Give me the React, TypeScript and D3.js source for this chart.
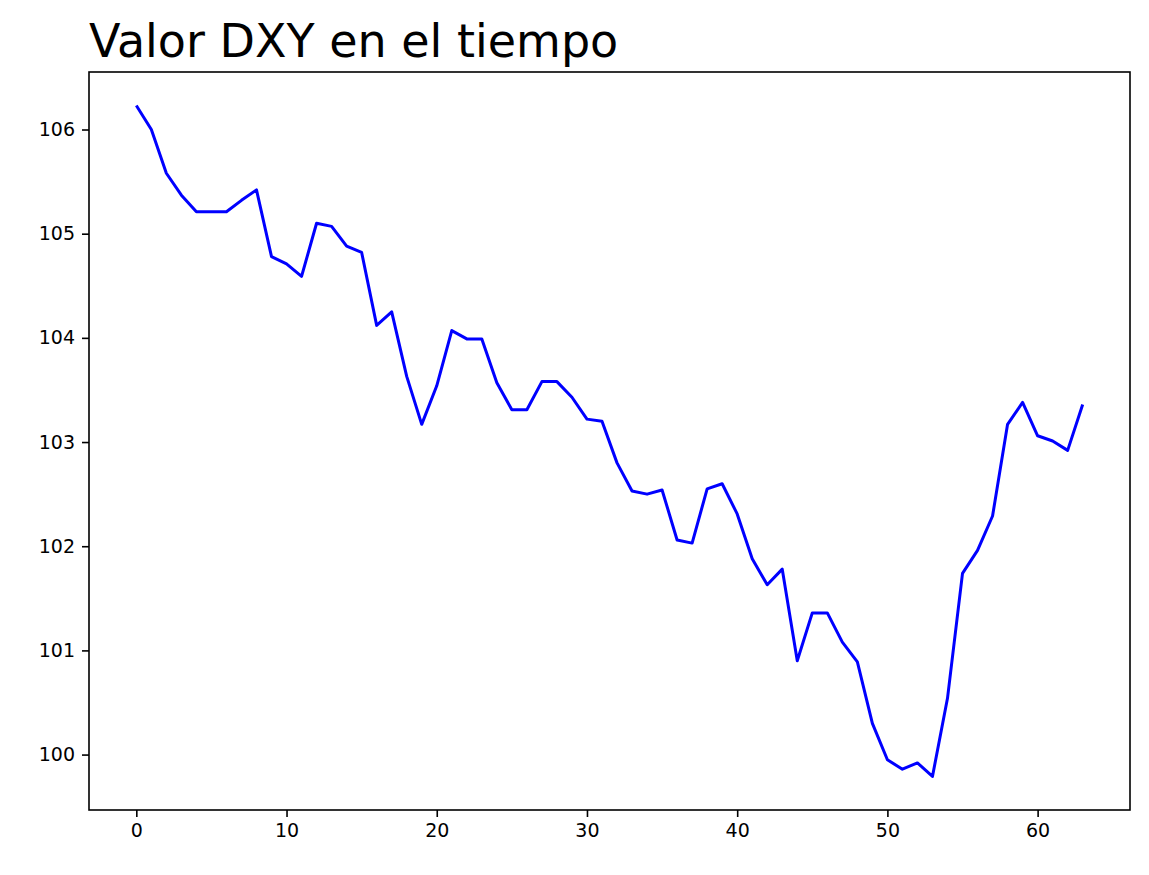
import React, { useRef, useEffect } from 'react';
import * as d3 from 'd3';

const dxyValues = [
  106.23, 106.0, 105.58, 105.37, 105.21, 105.21, 105.21, 105.32, 105.42, 104.78,
  104.71, 104.59, 105.1, 105.07, 104.88, 104.82, 104.12, 104.25, 103.63, 103.17,
  103.54, 104.07, 103.99, 103.99, 103.57, 103.31, 103.31, 103.58, 103.58, 103.43,
  103.22, 103.2, 102.8, 102.53, 102.5, 102.54, 102.06, 102.03, 102.55, 102.6,
  102.31, 101.88, 101.63, 101.78, 100.9, 101.36, 101.36, 101.08, 100.89, 100.3,
  99.95, 99.86, 99.92, 99.79, 100.54, 101.74, 101.96, 102.29, 103.17, 103.38,
  103.06, 103.01, 102.92, 103.36,
];
const xTicks = [0, 10, 20, 30, 40, 50, 60];
const yTicks = [100, 101, 102, 103, 104, 105, 106];
const title = 'Valor DXY en el tiempo';

const App: React.FC = () => {
  const svgRef = useRef<SVGSVGElement | null>(null);
  const width = 1149;
  const height = 875;

  useEffect(() => {
    const m = { left: 89, right: 1130, top: 72, bottom: 810 };
    const n = dxyValues.length - 1;
    const x = d3.scaleLinear().domain([-n * 0.05, n * 1.05]).range([m.left, m.right]);
    const [lo, hi] = d3.extent(dxyValues) as [number, number];
    const pad = (hi - lo) * 0.05;
    const y = d3.scaleLinear().domain([lo - pad, hi + pad]).range([m.bottom, m.top]);

    const svg = d3.select(svgRef.current);
    svg.selectAll('*').remove();
    svg.append('rect').attr('width', width).attr('height', height).attr('fill', 'white');

    const font = 'DejaVu Sans, sans-serif';

    const xAxis = svg.append('g')
      .attr('transform', `translate(0,${m.bottom})`)
      .call(d3.axisBottom(x).tickValues(xTicks).tickSize(7).tickPadding(7).tickFormat(d3.format('d')));
    const yAxis = svg.append('g')
      .attr('transform', `translate(${m.left},0)`)
      .call(d3.axisLeft(y).tickValues(yTicks).tickSize(7).tickPadding(7).tickFormat(d3.format('d')));
    [xAxis, yAxis].forEach(a => {
      a.attr('font-size', null).attr('font-family', null);
      a.select('.domain').remove();
      a.selectAll('line').attr('stroke', 'black').attr('stroke-width', 1.6);
      a.selectAll('text')
        .style('font-family', font).style('font-size', '19px').attr('fill', 'black');
    });

    const line = d3.line<number>()
      .x((_, i) => x(i))
      .y(d => y(d));
    svg.append('path')
      .datum(dxyValues)
      .attr('d', line)
      .attr('fill', 'none')
      .attr('stroke', 'blue')
      .attr('stroke-width', 3)
      .attr('stroke-linejoin', 'round');

    svg.append('rect')
      .attr('x', m.left).attr('y', m.top)
      .attr('width', m.right - m.left).attr('height', m.bottom - m.top)
      .attr('fill', 'none').attr('stroke', 'black').attr('stroke-width', 1.6);

    svg.append('text')
      .attr('x', m.left).attr('y', 57)
      .style('font-family', font).style('font-size', '46px')
      .text(title);
  }, []);

  return (
    <svg ref={svgRef} width={width} height={height}
      style={{ position: 'absolute', top: 0, left: 0, display: 'block' }} />
  );
};

export default App;
